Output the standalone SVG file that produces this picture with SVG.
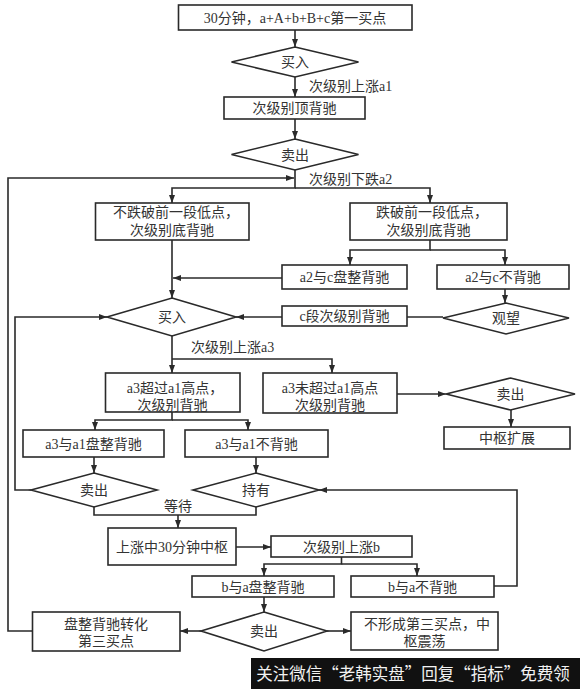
<svg xmlns="http://www.w3.org/2000/svg" width="580" height="689" viewBox="0 0 580 689">
<style>
.box{fill:#fff;stroke:#2a2a2a;stroke-width:1.6}
.t{font-family:"Liberation Serif","Noto Sans CJK SC",serif;font-size:14px;fill:#333;text-anchor:middle}
.lbl{font-family:"Liberation Serif","Noto Sans CJK SC",serif;font-size:14px;fill:#333;text-anchor:start}
.c{fill:none;stroke:#2a2a2a;stroke-width:1.6}
.a{marker-end:url(#ah)}
</style>
<defs>
<marker id="ah" markerWidth="8" markerHeight="6" refX="8" refY="3" orient="auto" markerUnits="userSpaceOnUse"><path d="M0,0 L8,3 L0,6 z" fill="#2a2a2a"/></marker>
</defs>
<rect width="580" height="689" fill="#fff"/>
<g id="connectors">
<path class="c a" d="M295,30 V47"/>
<path class="c a" d="M295,77 V97"/>
<path class="c a" d="M295,119 V139"/>
<path class="c a" d="M295,170 V188 H172 V203"/>
<path class="c a" d="M295,188 H430 V203"/>
<path class="c a" d="M33,631 H8 V178 H294"/>
<path class="c a" d="M430,240 V250 H350 V265"/>
<path class="c a" d="M430,250 H505 V265"/>
<path class="c a" d="M172,240 V298"/>
<path class="c a" d="M282,278 H173"/>
<path class="c a" d="M505,289 V303"/>
<path class="c" d="M443,317 H407"/>
<path class="c a" d="M282,317 H236"/>
<path class="c a" d="M31,490 H15 V317 H107"/>
<path class="c a" d="M172,336 V373"/>
<path class="c a" d="M172,359 H332 V373"/>
<path class="c a" d="M397,394 H446"/>
<path class="c a" d="M511,410 V427"/>
<path class="c a" d="M172,412 V420 H95 V430"/>
<path class="c a" d="M172,420 H248 V430"/>
<path class="c a" d="M94,457 V473"/>
<path class="c a" d="M256,457 V473"/>
<path class="c" d="M94,507 V515 H256 V507"/>
<path class="c a" d="M178,515 V528"/>
<path class="c a" d="M236,547 H271"/>
<path class="c a" d="M341.5,557 V564 H264 V576"/>
<path class="c a" d="M341.5,564 H417 V576"/>
<path class="c a" d="M264,597 V612"/>
<path class="c a" d="M201,631 H180"/>
<path class="c a" d="M327,631 H351"/>
<path class="c a" d="M494,586 H517 V490 H319"/>
<text class="lbl" x="309" y="91">次级别上涨a1</text>
<text class="lbl" x="309" y="184">次级别下跌a2</text>
<text class="lbl" x="191" y="352">次级别上涨a3</text>
<text class="t" x="178" y="511">等待</text>
</g>
<g id="start"><rect class="box" x="178.5" y="5" width="233.5" height="25"/><text class="t" x="295" y="22.5">30分钟，a+A+b+B+c第一买点</text></g>
<g id="buy1"><polygon class="box" points="295,47 358.5,62 295,77 231.5,62"/><text class="t" x="295" y="67">买入</text></g>
<g id="topdiv"><rect class="box" x="224" y="97" width="141" height="22"/><text class="t" x="294.5" y="113">次级别顶背驰</text></g>
<g id="sell1"><polygon class="box" points="295,139 358.5,154.5 295,170 231.5,154.5"/><text class="t" x="295" y="159.5">卖出</text></g>
<g id="notbreak"><rect class="box" x="95.5" y="203" width="153.5" height="37"/><text class="t" x="176" y="217">不跌破前一段低点，</text><text class="t" x="172" y="235">次级别底背驰</text></g>
<g id="break"><rect class="box" x="350" y="203" width="157" height="37"/><text class="t" x="432" y="217">跌破前一段低点，</text><text class="t" x="428.5" y="235">次级别底背驰</text></g>
<g id="a2c-div"><rect class="box" x="282" y="265" width="125" height="24"/><text class="t" x="344.5" y="282">a2与c盘整背驰</text></g>
<g id="a2c-nodiv"><rect class="box" x="437" y="265" width="132" height="24"/><text class="t" x="503" y="282">a2与c不背驰</text></g>
<g id="buy2"><polygon class="box" points="172,298 236,317 172,336 107,317"/><text class="t" x="172" y="322">买入</text></g>
<g id="watch"><polygon class="box" points="506,303 569,318 506,334 443,318"/><text class="t" x="506" y="323">观望</text></g>
<g id="c-div"><rect class="box" x="282" y="306" width="125" height="20"/><text class="t" x="344.5" y="321">c段次级别背驰</text></g>
<g id="a3-over"><rect class="box" x="105.5" y="373" width="134.5" height="39"/><text class="t" x="175" y="393">a3超过a1高点，</text><text class="t" x="172.5" y="410">次级别背驰</text></g>
<g id="a3-notover"><rect class="box" x="263" y="373" width="134" height="40"/><text class="t" x="330" y="393">a3未超过a1高点</text><text class="t" x="330" y="410">次级别背驰</text></g>
<g id="sell-right"><polygon class="box" points="510.5,378 575,394 510.5,410 446,394"/><text class="t" x="510.5" y="399">卖出</text></g>
<g id="expand"><rect class="box" x="444" y="427" width="126" height="22"/><text class="t" x="507" y="443">中枢扩展</text></g>
<g id="a3a1-div"><rect class="box" x="23" y="430" width="141" height="27"/><text class="t" x="93.5" y="448.5">a3与a1盘整背驰</text></g>
<g id="a3a1-nodiv"><rect class="box" x="185" y="430" width="143" height="27"/><text class="t" x="256.5" y="448.5">a3与a1不背驰</text></g>
<g id="sell2"><polygon class="box" points="94,473 157,490 94,507 31,490"/><text class="t" x="94" y="495">卖出</text></g>
<g id="hold"><polygon class="box" points="256,473 319,490 256,507 193,490"/><text class="t" x="256" y="495">持有</text></g>
<g id="center30"><rect class="box" x="108" y="528" width="128" height="37"/><text class="t" x="172" y="551.5">上涨中30分钟中枢</text></g>
<g id="rise-b"><rect class="box" x="271" y="536" width="141" height="21"/><text class="t" x="341.5" y="551.5">次级别上涨b</text></g>
<g id="ba-div"><rect class="box" x="192" y="576" width="142" height="21"/><text class="t" x="263" y="591.5">b与a盘整背驰</text></g>
<g id="ba-nodiv"><rect class="box" x="351" y="576" width="143" height="21"/><text class="t" x="422.5" y="591.5">b与a不背驰</text></g>
<g id="sell3"><polygon class="box" points="264,612 327,631 264,651 201,631"/><text class="t" x="264" y="636">卖出</text></g>
<g id="third-buy"><rect class="box" x="32.5" y="612" width="147.5" height="39"/><text class="t" x="106" y="629">盘整背驰转化</text><text class="t" x="106" y="646">第三买点</text></g>
<g id="no-third"><rect class="box" x="351" y="612" width="147" height="38"/><text class="t" x="427" y="629">不形成第三买点，中</text><text class="t" x="424.5" y="646">枢震荡</text></g>
<g id="watermark"><rect x="251" y="658" width="329" height="31" fill="#111"/><text x="413" y="680" font-family="'Noto Sans CJK SC',sans-serif" font-size="16.5" fill="#f2f2f2" text-anchor="middle">关注微信“老韩实盘”回复“指标”免费领</text></g>
</svg>
